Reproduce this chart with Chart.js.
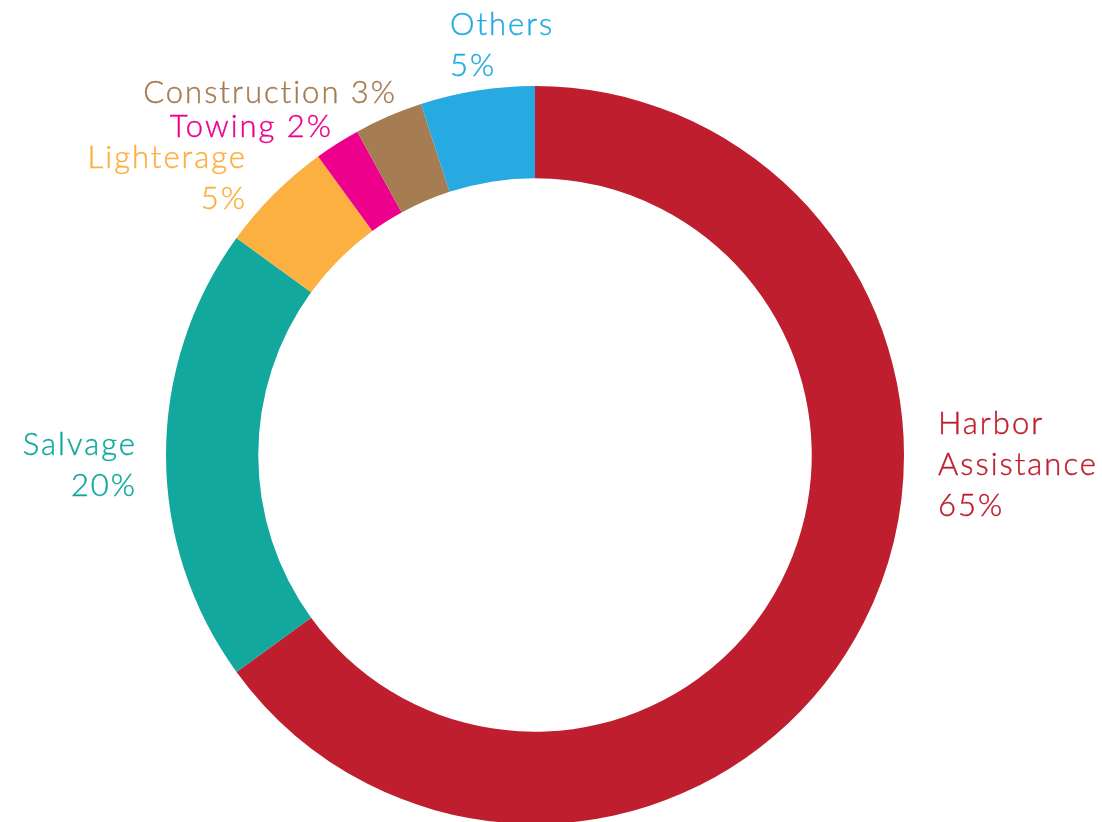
<!DOCTYPE html>
<html>
<head>
<meta charset="utf-8">
<script src="https://cdn.jsdelivr.net/npm/chart.js@4"></script>
<style>
  html, body { margin: 0; padding: 0; background: #fff; overflow: hidden; }
  #wrap { width: 1102px; height: 822px; overflow: hidden; }
</style>
</head>
<body>
<div id="wrap"><canvas id="segmentChart" width="1102" height="826"></canvas></div>
<script>
const categories = ['Harbor Assistance', 'Salvage', 'Lighterage', 'Towing', 'Construction', 'Others'];
const shares = [65, 20, 5, 2, 3, 5];
const colors = ['#BE1E2D', '#13A89E', '#FBB040', '#EC008C', '#A67C52', '#27AAE1'];

// label text as shown on the picture, one entry per line
const labelLines = [
    ['Harbor', 'Assistance', '65%'],
    ['Salvage', '20%'],
    ['Lighterage', '5%'],
    ['Towing 2%'],
    ['Construction 3%'],
    ['Others', '5%']
];

// where each label block sits and how it's aligned
const labelPlace = [
    { x: 938, y: 434, align: 'left' },
    { x: 135, y: 455, align: 'right' },
    { x: 245, y: 168, align: 'right' },
    { x: 331, y: 137, align: 'right' },
    { x: 395, y: 103, align: 'right' },
    { x: 450, y: 35, align: 'left' }
];

const spacing = 2;

const outsideLabels = {
    id: 'outsideLabels',
    afterDraw(chart) {
        const ctx = chart.ctx;
        ctx.save();
        ctx.font = '300 31px Lato';
        ctx.letterSpacing = spacing + 'px';
        ctx.textBaseline = 'alphabetic';
        labelLines.forEach((lines, i) => {
            const p = labelPlace[i];
            ctx.fillStyle = colors[i];
            ctx.strokeStyle = colors[i];
            ctx.lineWidth = 0.4;
            ctx.textAlign = p.align;
            lines.forEach((txt, j) => {
                // letterSpacing adds a trailing gap, nudge right-aligned text back
                const x = p.align === 'right' ? p.x + spacing : p.x;
                ctx.fillText(txt, x, p.y + j * 41);
                ctx.strokeText(txt, x, p.y + j * 41);
            });
        });
        ctx.restore();
    }
};

const ctx = document.getElementById('segmentChart').getContext('2d');
new Chart(ctx, {
    type: 'doughnut',
    data: {
        labels: categories,
        datasets: [{
            data: shares,
            backgroundColor: colors,
            borderWidth: 0
        }]
    },
    options: {
        responsive: false,
        animation: false,
        cutout: '75%',
        rotation: 0,
        layout: {
            padding: { top: 86, bottom: 2, left: 166, right: 198 }
        },
        plugins: {
            legend: { display: false },
            tooltip: { enabled: false }
        }
    },
    plugins: [outsideLabels]
});
</script>
</body>
</html>
